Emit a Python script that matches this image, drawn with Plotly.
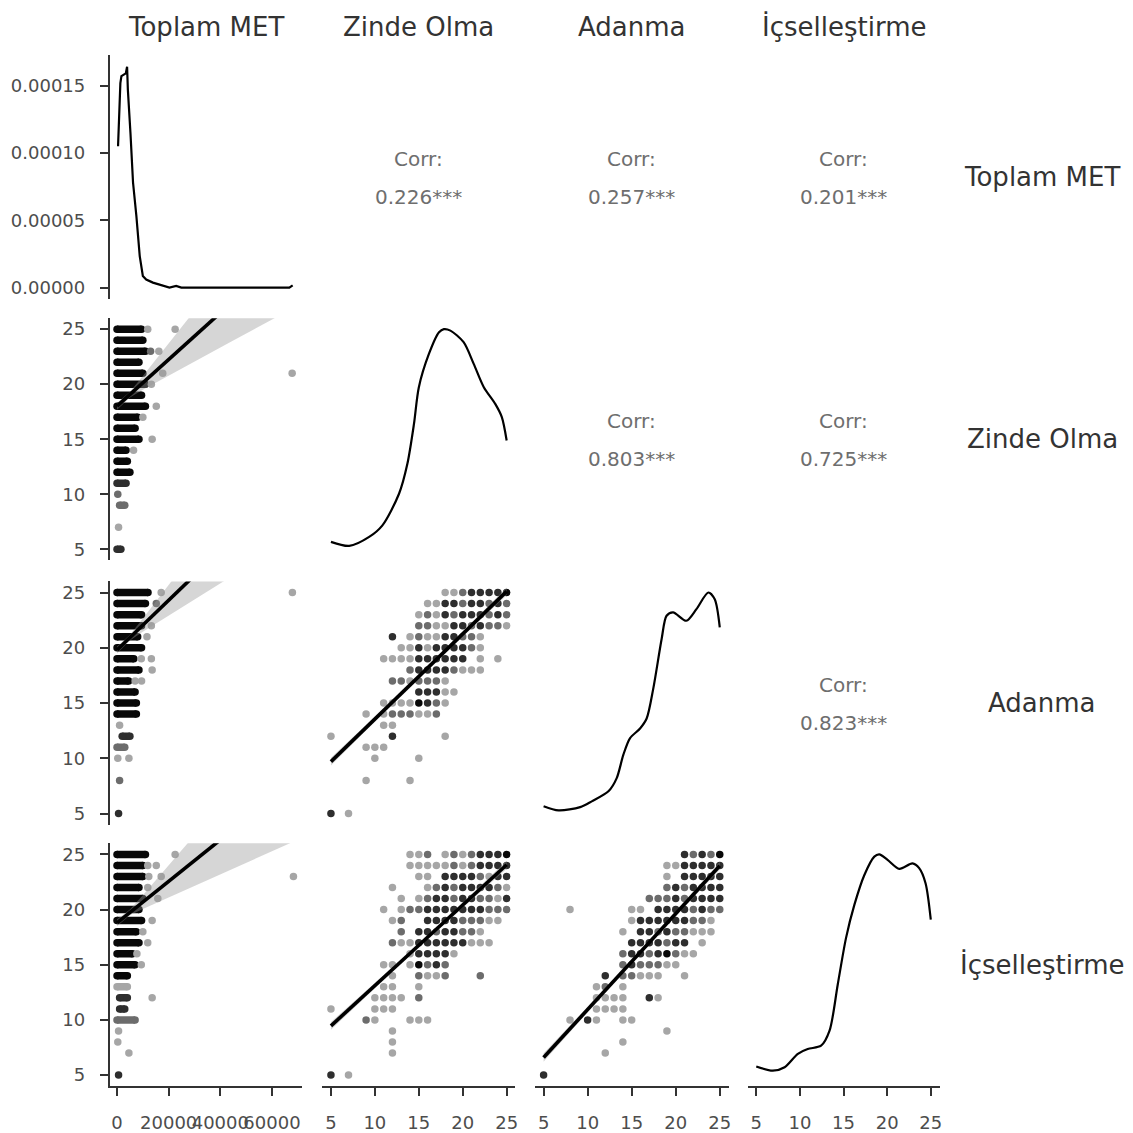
import plotly.graph_objects as go

# ---------------- data ----------------
VARS = ["Toplam MET", "Zinde Olma", "Adanma", "İçselleştirme"]
CORR_TEXT = {(0, 1): "0.226***", (0, 2): "0.257***", (0, 3): "0.201***",
             (1, 2): "0.803***", (1, 3): "0.725***", (2, 3): "0.823***"}

# diagonal densities
met_dens_x = [400, 800, 1300, 1700, 2600, 3400, 3900, 4200, 5200, 6200, 7500, 8800,
              10000, 11300, 13900, 17800, 20300, 22900, 24900, 66700, 68000]
met_dens_y = [104.9e-6, 127e-6, 151.8e-6, 157e-6, 158e-6, 159e-6, 164e-6, 147e-6,
              115e-6, 78e-6, 53e-6, 23.4e-6, 8.6e-6, 6e-6, 3.7e-6, 1.2e-6, 0.0,
              1.2e-6, 0.0, 0.0, 1.7e-6]

zinde_dens_x = [5.0, 7.08, 9.35, 10.86, 12.75, 13.7, 14.45, 15.0, 16.15, 17.3, 17.85,
                18.6, 20.1, 21.25, 22.4, 23.7, 24.45, 25.0]
zinde_dens_y = [0.0040, 0.0018, 0.0067, 0.0130, 0.0302, 0.0465, 0.0682, 0.0881, 0.1063,
                0.1181, 0.1198, 0.1190, 0.1127, 0.1009, 0.0882, 0.0791, 0.0719, 0.0592]

adanma_dens_x = [5.0, 6.7, 9.15, 10.47, 12.36, 13.3, 14.05, 14.8, 15.95, 16.7, 17.45,
                 18.4, 18.96, 19.7, 21.2, 22.35, 23.7, 24.43, 25.0]
adanma_dens_y = [0.0037, 0.0016, 0.0032, 0.0061, 0.0111, 0.0177, 0.0293, 0.0376, 0.0425,
                 0.0475, 0.0624, 0.0872, 0.0988, 0.1005, 0.0963, 0.1021, 0.1104, 0.1070,
                 0.0930]

icsel_dens_x = [5.0, 6.9, 8.25, 9.77, 10.9, 12.43, 13.4, 14.34, 15.29, 16.25, 17.39,
                18.53, 19.1, 20.05, 21.39, 22.9, 23.67, 24.4, 25.0]
icsel_dens_y = [0.0047, 0.0024, 0.0043, 0.0116, 0.0142, 0.0160, 0.0242, 0.0494, 0.0748,
                0.0929, 0.1091, 0.1191, 0.1203, 0.1173, 0.1124, 0.1154, 0.1128, 0.1046,
                0.0847]

# MET scatter panels: dense runs (level, MET from, MET to, overlap count)
zinde_met_bands = [(25, 0, 9500, 8), (24, 0, 10000, 8), (23, 0, 11000, 8), (22, 0, 8500, 8),
                   (21, 0, 10000, 8), (20, 0, 11000, 8), (19, 0, 9500, 8), (18, 0, 11000, 8),
                   (17, 0, 8000, 8), (16, 0, 7000, 8), (15, 0, 8500, 8), (14, 0, 3500, 8),
                   (13, 0, 4000, 8), (12, 0, 5000, 8), (11, 0, 3500, 4), (9, 1000, 3000, 2),
                   (5, 0, 1500, 4)]
# single points (level, MET, overlap count)
zinde_met_points = [(25, 11900, 1), (25, 22500, 1), (23, 13000, 2), (23, 16200, 1),
                    (21, 17700, 1), (20, 13300, 1), (18, 15200, 1), (17, 10000, 1),
                    (15, 13600, 1), (14, 6400, 1), (10, 300, 2), (7, 600, 1), (21, 67800, 1)]

adanma_met_bands = [(25, 0, 12000, 8), (24, 0, 11000, 8), (23, 0, 9500, 8), (22, 0, 9500, 8),
                    (21, 0, 8000, 8), (20, 0, 9500, 8), (19, 0, 6500, 8), (18, 0, 8500, 8),
                    (17, 0, 4500, 8), (16, 0, 7000, 8), (15, 0, 7500, 8), (14, 0, 7500, 8),
                    (12, 2000, 5000, 4), (11, 0, 3000, 2)]
adanma_met_points = [(25, 17100, 1), (24, 15200, 2), (22, 13300, 1), (21, 11600, 1),
                     (19, 9400, 1), (19, 13300, 1), (18, 13600, 1), (17, 7000, 1),
                     (17, 9500, 1), (13, 1000, 1), (10, 300, 1), (10, 4600, 1), (8, 1000, 2),
                     (5, 600, 4), (25, 67900, 1)]

icsel_met_bands = [(25, 0, 11000, 8), (24, 0, 10000, 8), (23, 0, 10000, 8), (22, 0, 8500, 8),
                   (21, 0, 10000, 8), (20, 0, 8500, 8), (19, 0, 9500, 8), (18, 0, 7500, 8),
                   (17, 0, 8500, 8), (16, 0, 6000, 8), (15, 0, 7000, 8), (14, 0, 4000, 8),
                   (13, 0, 4000, 1), (12, 1000, 4000, 4), (11, 1000, 3000, 4), (10, 0, 7000, 2)]
icsel_met_points = [(25, 22500, 1), (24, 11900, 1), (24, 15200, 1), (23, 12300, 1),
                    (23, 17100, 1), (22, 11900, 1), (21, 15800, 1), (19, 13600, 1),
                    (18, 10000, 1), (17, 11900, 1), (16, 7700, 1), (15, 9400, 1),
                    (12, 13600, 1), (9, 600, 1), (8, 300, 1), (7, 4600, 1), (5, 600, 4),
                    (23, 68300, 1)]

# linear fits vs MET with confidence band
met_fit_x = [0, 5000, 10000, 20000, 30000, 45000, 70000]
zinde_met_fit = [18.0, 19.06, 20.12, 22.24, 24.36, 27.54, 32.84]
zinde_met_lo = [17.68, 18.80, 19.49, 20.79, 22.06, 23.97, 27.14]
zinde_met_hi = [18.32, 19.32, 20.75, 23.69, 26.66, 31.11, 38.54]
adanma_met_fit = [19.8, 20.93, 22.05, 24.3, 26.55, 29.93, 35.55]
adanma_met_lo = [19.49, 20.67, 21.46, 22.93, 24.38, 26.56, 30.19]
adanma_met_hi = [20.11, 21.19, 22.64, 25.67, 28.72, 33.3, 40.91]
icsel_met_fit = [18.8, 19.74, 20.68, 22.56, 24.44, 27.26, 31.96]
icsel_met_lo = [18.48, 19.48, 20.06, 21.12, 22.16, 23.73, 26.33]
icsel_met_hi = [19.12, 20.0, 21.3, 24.0, 26.72, 30.79, 37.59]

# linear fits between the 5-25 scales
likert_fit_x = [5, 15, 25]
adanma_zinde_fit = [9.7, 17.4, 25.1]
adanma_zinde_lo = [9.35, 17.28, 24.75]
adanma_zinde_hi = [10.05, 17.52, 25.45]
icsel_zinde_fit = [9.46, 16.76, 24.06]
icsel_zinde_lo = [9.1, 16.64, 23.7]
icsel_zinde_hi = [9.82, 16.88, 24.42]
icsel_adanma_fit = [6.6, 15.29, 23.97]
icsel_adanma_lo = [6.22, 15.17, 23.62]
icsel_adanma_hi = [6.98, 15.41, 24.32]

# discrete scatter cells: level on y -> [(x value, overlap count)]
adanma_zinde_cells = {
    25: [(18, 1), (19, 1), (20, 2), (21, 4), (22, 4), (23, 4), (24, 4), (25, 8)],
    24: [(16, 1), (17, 1), (18, 4), (19, 4), (20, 2), (21, 4), (22, 4), (23, 2), (24, 4), (25, 2)],
    23: [(15, 1), (16, 2), (17, 1), (18, 4), (19, 2), (20, 4), (21, 4), (22, 4), (23, 2), (24, 4), (25, 2)],
    22: [(15, 2), (16, 2), (17, 1), (18, 1), (19, 4), (20, 4), (21, 2), (22, 4), (23, 2), (24, 2), (25, 1)],
    21: [(12, 4), (14, 1), (15, 2), (16, 1), (17, 1), (18, 4), (19, 4), (20, 2), (21, 2), (22, 1)],
    20: [(13, 1), (14, 1), (15, 4), (16, 1), (17, 4), (18, 4), (19, 4), (20, 4), (21, 2), (22, 1)],
    19: [(11, 1), (12, 1), (13, 1), (14, 1), (15, 4), (16, 4), (17, 4), (18, 4), (19, 4), (20, 4), (22, 1), (24, 1)],
    18: [(14, 2), (15, 4), (16, 4), (17, 4), (18, 4), (19, 2), (20, 1), (21, 1), (22, 1)],
    17: [(12, 2), (13, 2), (14, 1), (15, 2), (16, 2), (17, 2), (18, 1)],
    16: [(15, 4), (16, 4), (17, 4), (18, 1), (19, 1)],
    15: [(11, 1), (12, 1), (13, 1), (14, 1), (15, 8), (16, 4), (17, 2), (18, 1)],
    14: [(9, 1), (11, 1), (12, 2), (13, 2), (14, 2), (15, 1), (16, 1), (17, 2)],
    13: [(11, 1), (12, 1)],
    12: [(5, 1), (12, 4), (18, 1)],
    11: [(9, 1), (10, 1), (11, 1)],
    10: [(10, 1), (15, 1)],
    8: [(9, 1), (14, 1)],
    5: [(5, 4), (7, 1)],
}
icsel_zinde_cells = {
    25: [(14, 1), (15, 1), (16, 2), (18, 1), (19, 2), (20, 1), (21, 2), (22, 4), (23, 4), (24, 4), (25, 8)],
    24: [(14, 1), (15, 1), (16, 1), (17, 1), (18, 1), (19, 2), (20, 1), (21, 2), (22, 4), (23, 4), (24, 4), (25, 4)],
    23: [(15, 1), (16, 1), (18, 4), (19, 4), (20, 4), (21, 4), (22, 2), (23, 1), (24, 4), (25, 4)],
    22: [(12, 1), (16, 1), (17, 2), (18, 4), (19, 2), (20, 4), (21, 4), (22, 4), (23, 4), (24, 2), (25, 1)],
    21: [(13, 1), (15, 1), (16, 2), (17, 4), (18, 4), (19, 2), (20, 4), (21, 4), (22, 2), (23, 2), (24, 1), (25, 4)],
    20: [(11, 1), (13, 1), (14, 2), (15, 2), (16, 4), (17, 4), (18, 4), (19, 4), (20, 4), (21, 4), (22, 4), (23, 2), (24, 2), (25, 2)],
    19: [(12, 1), (13, 2), (16, 4), (17, 4), (18, 4), (19, 4), (20, 2), (21, 2), (22, 2), (23, 1), (24, 1)],
    18: [(13, 2), (15, 4), (16, 4), (17, 2), (18, 4), (19, 4), (20, 2), (21, 2), (22, 1)],
    17: [(12, 2), (13, 1), (14, 1), (15, 4), (16, 4), (17, 4), (18, 4), (19, 4), (20, 4), (21, 1), (22, 1), (23, 1)],
    16: [(14, 1), (15, 4), (16, 4), (17, 4), (18, 4), (19, 1)],
    15: [(11, 1), (12, 1), (14, 1), (15, 8), (16, 2), (17, 4), (18, 2)],
    14: [(12, 1), (15, 2), (16, 1), (17, 1), (18, 2), (22, 2)],
    13: [(11, 1), (12, 1), (15, 1)],
    12: [(10, 1), (11, 1), (12, 1), (13, 1), (15, 2)],
    11: [(5, 1), (10, 1), (11, 1), (12, 1)],
    10: [(9, 2), (10, 1), (14, 1), (15, 1), (16, 1)],
    9: [(12, 1)],
    8: [(12, 1)],
    7: [(12, 1)],
    5: [(5, 4), (7, 1)],
}
icsel_adanma_cells = {
    25: [(21, 4), (22, 2), (23, 4), (24, 2), (25, 8)],
    24: [(19, 1), (20, 1), (21, 4), (22, 4), (23, 4), (24, 4), (25, 4)],
    23: [(19, 1), (21, 4), (22, 4), (23, 4), (24, 4), (25, 4)],
    22: [(19, 2), (20, 4), (21, 2), (22, 4), (23, 4), (24, 4), (25, 4)],
    21: [(17, 2), (18, 2), (19, 2), (20, 4), (21, 2), (22, 4), (23, 4), (24, 4), (25, 4)],
    20: [(8, 1), (15, 1), (16, 1), (18, 4), (19, 4), (20, 4), (21, 4), (22, 2), (23, 4), (24, 2), (25, 2)],
    19: [(15, 1), (16, 4), (17, 4), (18, 4), (19, 4), (20, 4), (21, 4), (22, 2), (23, 2), (24, 1)],
    18: [(14, 1), (16, 4), (17, 4), (18, 2), (19, 4), (20, 2), (21, 2), (22, 1), (23, 1), (24, 1)],
    17: [(15, 4), (16, 4), (17, 4), (18, 4), (19, 2), (20, 4), (21, 4), (23, 1)],
    16: [(14, 2), (15, 4), (16, 4), (17, 2), (18, 4), (19, 8), (20, 2), (21, 1), (22, 1)],
    15: [(14, 2), (15, 4), (16, 2), (17, 2), (18, 2), (19, 1), (20, 1)],
    14: [(12, 4), (14, 2), (15, 2), (16, 1), (17, 1), (18, 1), (21, 1)],
    13: [(11, 1), (12, 2), (14, 1)],
    12: [(11, 1), (12, 1), (13, 1), (14, 1), (17, 4), (18, 1)],
    11: [(11, 1), (12, 1), (13, 1), (14, 1)],
    10: [(8, 1), (10, 4), (11, 1), (14, 1), (15, 1)],
    9: [(19, 1)],
    8: [(14, 1)],
    7: [(12, 1)],
    5: [(5, 4)],
}

# ---------------- layout geometry (window pixels) ----------------
OFF = 8              # the page body margin shifts the figure by 8 px
W = 1125             # figure size so that figure + margin fills the window
COLS = [(110, 303), (323, 516.8), (536.2, 730.5), (749.5, 942)]
ROWS = [(54.7, 299.4), (319, 561.7), (583, 826.8), (845.6, 1089)]
FONT = "DejaVu Sans"
ALPHA = 0.35
MSIZE = 7.5


def px(v):
    return (v - OFF) / W


def py(v):
    return 1 - (v - OFF) / W


def xd(c):
    return [px(COLS[c][0]), px(COLS[c][1])]


def yd(r):
    return [py(ROWS[r][1]), py(ROWS[r][0])]


def shade(n):
    a = 1 - (1 - ALPHA) ** n
    g = round(255 * (1 - a))
    return f"rgb({g},{g},{g})"


fig = go.Figure()
panels = [(r, c) for r in range(4) for c in range(4) if c <= r]
ax_id = {p: i + 1 for i, p in enumerate(panels)}


def axn(p):
    k = ax_id[p]
    return ("x" if k == 1 else f"x{k}"), ("y" if k == 1 else f"y{k}")


axis_style = dict(showline=True, linecolor="#333333", linewidth=1.7, ticks="outside",
                  ticklen=8, tickwidth=1.7, tickcolor="#333333", showgrid=False,
                  zeroline=False, fixedrange=True,
                  tickfont=dict(family=FONT, size=18, color="#4d4d4d"))

MET_RANGE = [-2820, 71700]
LIK_RANGE = [4, 26]
dens_max = {1: max(zinde_dens_y), 2: max(adanma_dens_y), 3: max(icsel_dens_y)}

for p in panels:
    r, c = p
    k = ax_id[p]
    xa = "xaxis" if k == 1 else f"xaxis{k}"
    ya = "yaxis" if k == 1 else f"yaxis{k}"
    xname, yname = axn(p)
    xcfg = dict(axis_style, domain=xd(c), anchor=yname, visible=(r == 3), tickangle=0,
                ticklabelstandoff=11)
    if c == 0:
        xcfg.update(range=MET_RANGE, tickvals=[0, 20000, 40000, 60000],
                    ticktext=["0", "20000", "40000", "60000"])
    else:
        xcfg.update(range=LIK_RANGE, tickvals=[5, 10, 15, 20, 25])
    ycfg = dict(axis_style, domain=yd(r), anchor=xname, visible=(c == 0),
                ticklabelstandoff=11)
    if r == 0:
        ycfg.update(range=[-8.2e-6, 1.73e-4], tickvals=[0, 5e-5, 1e-4, 1.5e-4],
                    tickformat=".5f")
    elif r == c:
        m = dens_max[r]
        ycfg.update(range=[-0.05 * m, 1.05 * m])
    else:
        ycfg.update(range=LIK_RANGE, tickvals=[5, 10, 15, 20, 25])
    fig.layout[xa] = xcfg
    fig.layout[ya] = ycfg


def add(p, **kw):
    xname, yname = axn(p)
    fig.add_trace(go.Scatter(xaxis=xname, yaxis=yname, showlegend=False,
                             hoverinfo="skip", **kw))


# densities
dens_line = dict(color="black", width=2.2)
add((0, 0), x=met_dens_x, y=met_dens_y, mode="lines", line=dens_line)
add((1, 1), x=zinde_dens_x, y=zinde_dens_y, mode="lines",
    line=dict(dens_line, shape="spline", smoothing=0.8))
add((2, 2), x=adanma_dens_x, y=adanma_dens_y, mode="lines",
    line=dict(dens_line, shape="spline", smoothing=0.8))
add((3, 3), x=icsel_dens_x, y=icsel_dens_y, mode="lines",
    line=dict(dens_line, shape="spline", smoothing=0.8))


def ribbon(p, xs, fit, lo, hi):
    add(p, x=list(xs) + list(xs)[::-1], y=list(hi) + list(lo)[::-1], mode="lines",
        fill="toself", fillcolor="rgba(153,153,153,0.4)", line=dict(width=0))
    add(p, x=xs, y=fit, mode="lines", line=dict(color="black", width=3.6))


def met_panel(p, bands, points, fit, lo, hi):
    for lvl, s, e, n in bands:
        col = shade(n)
        add(p, x=[s, e], y=[lvl, lvl], mode="lines+markers",
            line=dict(color=col, width=MSIZE), marker=dict(color=col, size=MSIZE))
    add(p, x=[q[1] for q in points], y=[q[0] for q in points], mode="markers",
        marker=dict(size=MSIZE, color=[shade(q[2]) for q in points]))
    ribbon(p, met_fit_x, fit, lo, hi)


def cell_panel(p, cells, fit, lo, hi):
    xs, ys, cs = [], [], []
    for lvl, row in cells.items():
        for xv, n in row:
            xs.append(xv)
            ys.append(lvl)
            cs.append(shade(n))
    add(p, x=xs, y=ys, mode="markers", marker=dict(size=MSIZE, color=cs))
    ribbon(p, likert_fit_x, fit, lo, hi)


met_panel((1, 0), zinde_met_bands, zinde_met_points, zinde_met_fit, zinde_met_lo, zinde_met_hi)
met_panel((2, 0), adanma_met_bands, adanma_met_points, adanma_met_fit, adanma_met_lo, adanma_met_hi)
met_panel((3, 0), icsel_met_bands, icsel_met_points, icsel_met_fit, icsel_met_lo, icsel_met_hi)
cell_panel((2, 1), adanma_zinde_cells, adanma_zinde_fit, adanma_zinde_lo, adanma_zinde_hi)
cell_panel((3, 1), icsel_zinde_cells, icsel_zinde_fit, icsel_zinde_lo, icsel_zinde_hi)
cell_panel((3, 2), icsel_adanma_cells, icsel_adanma_fit, icsel_adanma_lo, icsel_adanma_hi)

# ---------------- annotations ----------------
ann = []
strip_font = dict(family=FONT, size=26, color="#333333")
for c, name in enumerate(VARS):
    cx = (COLS[c][0] + COLS[c][1]) / 2
    ann.append(dict(x=px(cx), y=py(27), xref="paper", yref="paper", text=name,
                    showarrow=False, font=strip_font, xanchor="center", yanchor="middle"))
for r, name in enumerate(VARS):
    cy = (ROWS[r][0] + ROWS[r][1]) / 2
    ann.append(dict(x=px(1045), y=py(cy), xref="paper", yref="paper", text=name,
                    showarrow=False, font=strip_font, xanchor="center", yanchor="middle"))
for (r, c), val in CORR_TEXT.items():
    cx = (COLS[c][0] + COLS[c][1]) / 2
    cy = (ROWS[r][0] + ROWS[r][1]) / 2
    for txt, dy in (("Corr:", -18), (val, 20)):
        ann.append(dict(x=px(cx), y=py(cy + dy), xref="paper", yref="paper", text=txt,
                        showarrow=False, font=dict(family=FONT, size=20, color="#6e6e6e"),
                        xanchor="center", yanchor="middle"))

fig.update_layout(width=W, height=W, margin=dict(l=0, r=0, t=0, b=0),
                  paper_bgcolor="white", plot_bgcolor="white", annotations=ann,
                  showlegend=False)

fig.write_html("out.html")
